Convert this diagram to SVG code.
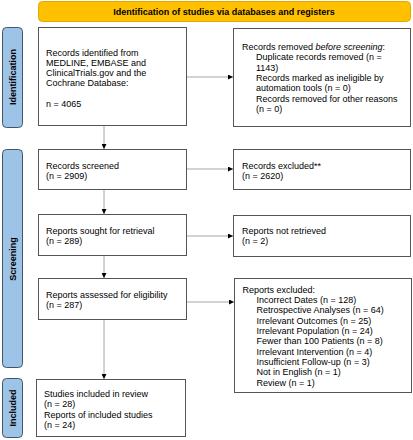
<svg xmlns="http://www.w3.org/2000/svg" width="413" height="440" viewBox="0 0 413 440">
<style>
text{font-family:"Liberation Sans",Arial,sans-serif;font-size:9px;fill:#000}
.box{fill:#fff;stroke:#555;stroke-width:1}
.side{fill:#9dc3e6;stroke:#41556b;stroke-width:1}
.lbl{font-weight:bold}
.con{stroke:#a6a6a6;stroke-width:1;fill:none}
</style>
<defs>
<marker id="ah" viewBox="0 0 10 10" refX="10" refY="5" markerWidth="5" markerHeight="5" orient="auto" markerUnits="userSpaceOnUse">
<path d="M0,0 L10,5 L0,10 z" fill="#000"/>
</marker>
</defs>
<rect width="413" height="440" fill="#fff"/>
<g id="header">
<rect x="38.5" y="1.5" width="372" height="20" rx="4" fill="#ffc000" stroke="#e0a800"/>
<text class="lbl" x="224" y="14.5" text-anchor="middle">Identification of studies via databases and registers</text>
</g>
<g id="side-identification">
<rect class="side" x="2.5" y="27.5" width="20" height="100" rx="4"/>
<text class="lbl" transform="translate(15.5,77) rotate(-90)" text-anchor="middle">Identification</text>
</g>
<g id="side-screening">
<rect class="side" x="2.5" y="149.5" width="20" height="218" rx="4"/>
<text class="lbl" transform="translate(15.5,259) rotate(-90)" text-anchor="middle">Screening</text>
</g>
<g id="side-included">
<rect class="side" x="2.5" y="378.5" width="20" height="59" rx="4"/>
<text class="lbl" transform="translate(15.5,408) rotate(-90)" text-anchor="middle">Included</text>
</g>
<g id="connectors">
<line class="con" x1="104" y1="126" x2="104" y2="149" marker-end="url(#ah)"/>
<line class="con" x1="104" y1="190" x2="104" y2="214" marker-end="url(#ah)"/>
<line class="con" x1="104" y1="256" x2="104" y2="278" marker-end="url(#ah)"/>
<line class="con" x1="104" y1="320" x2="104" y2="379" marker-end="url(#ah)"/>
<line class="con" x1="187" y1="77" x2="233" y2="77" marker-end="url(#ah)"/>
<line class="con" x1="187" y1="169" x2="233" y2="169" marker-end="url(#ah)"/>
<line class="con" x1="187" y1="236" x2="233" y2="236" marker-end="url(#ah)"/>
<line class="con" x1="187" y1="302" x2="234" y2="302" marker-end="url(#ah)"/>
</g>
<g id="records-identified">
<rect class="box" x="38.5" y="27.5" width="148" height="98"/>
<text x="46" y="56">Records identified from</text>
<text x="46" y="66">MEDLINE, EMBASE and</text>
<text x="46" y="76">ClinicalTrials.gov and the</text>
<text x="46" y="86">Cochrane Database:</text>
<text x="46" y="107">n = 4065</text>
</g>
<g id="records-removed">
<rect class="box" x="233.5" y="28.5" width="177" height="98"/>
<text x="242" y="50">Records removed <tspan font-style="italic">before screening</tspan>:</text>
<text x="256" y="60.3">Duplicate records removed (n =</text>
<text x="256" y="70.6">1143)</text>
<text x="256" y="80.9">Records marked as ineligible by</text>
<text x="256" y="91.2">automation tools (n = 0)</text>
<text x="256" y="101.5">Records removed for other reasons</text>
<text x="256" y="111.8">(n = 0)</text>
</g>
<g id="records-screened">
<rect class="box" x="38.5" y="149.5" width="148" height="40"/>
<text x="46" y="168.5">Records screened</text>
<text x="46" y="178.5">(n = 2909)</text>
</g>
<g id="records-excluded">
<rect class="box" x="233.5" y="149.5" width="177" height="40"/>
<text x="242" y="168.5">Records excluded**</text>
<text x="242" y="178.5">(n = 2620)</text>
</g>
<g id="reports-sought">
<rect class="box" x="38.5" y="214.5" width="148" height="41"/>
<text x="46" y="233.5">Reports sought for retrieval</text>
<text x="46" y="243.5">(n = 289)</text>
</g>
<g id="reports-not-retrieved">
<rect class="box" x="233.5" y="215.5" width="177" height="41"/>
<text x="242" y="233.5">Reports not retrieved</text>
<text x="242" y="243.5">(n = 2)</text>
</g>
<g id="reports-assessed">
<rect class="box" x="38.5" y="278.5" width="148" height="41"/>
<text x="46" y="297.5">Reports assessed for eligibility</text>
<text x="46" y="307.8">(n = 287)</text>
</g>
<g id="reports-excluded">
<rect class="box" x="234.5" y="278.5" width="177" height="114"/>
<text x="242.5" y="292.8">Reports excluded:</text>
<text x="256.5" y="303.1">Incorrect Dates (n = 128)</text>
<text x="256.5" y="313.4">Retrospective Analyses (n = 64)</text>
<text x="256.5" y="323.7">Irrelevant Outcomes (n = 25)</text>
<text x="256.5" y="334">Irrelevant Population (n = 24)</text>
<text x="256.5" y="344.3">Fewer than 100 Patients (n = 8)</text>
<text x="256.5" y="354.6">Irrelevant Intervention (n = 4)</text>
<text x="256.5" y="364.9">Insufficient Follow-up (n = 3)</text>
<text x="256.5" y="375.2">Not in English (n = 1)</text>
<text x="256.5" y="385.5">Review (n = 1)</text>
</g>
<g id="studies-included">
<rect class="box" x="36.5" y="379.5" width="149" height="57"/>
<text x="44" y="396.8">Studies included in review</text>
<text x="44" y="407.2">(n = 28)</text>
<text x="44" y="417.5">Reports of included studies</text>
<text x="44" y="427.8">(n = 24)</text>
</g>
</svg>
